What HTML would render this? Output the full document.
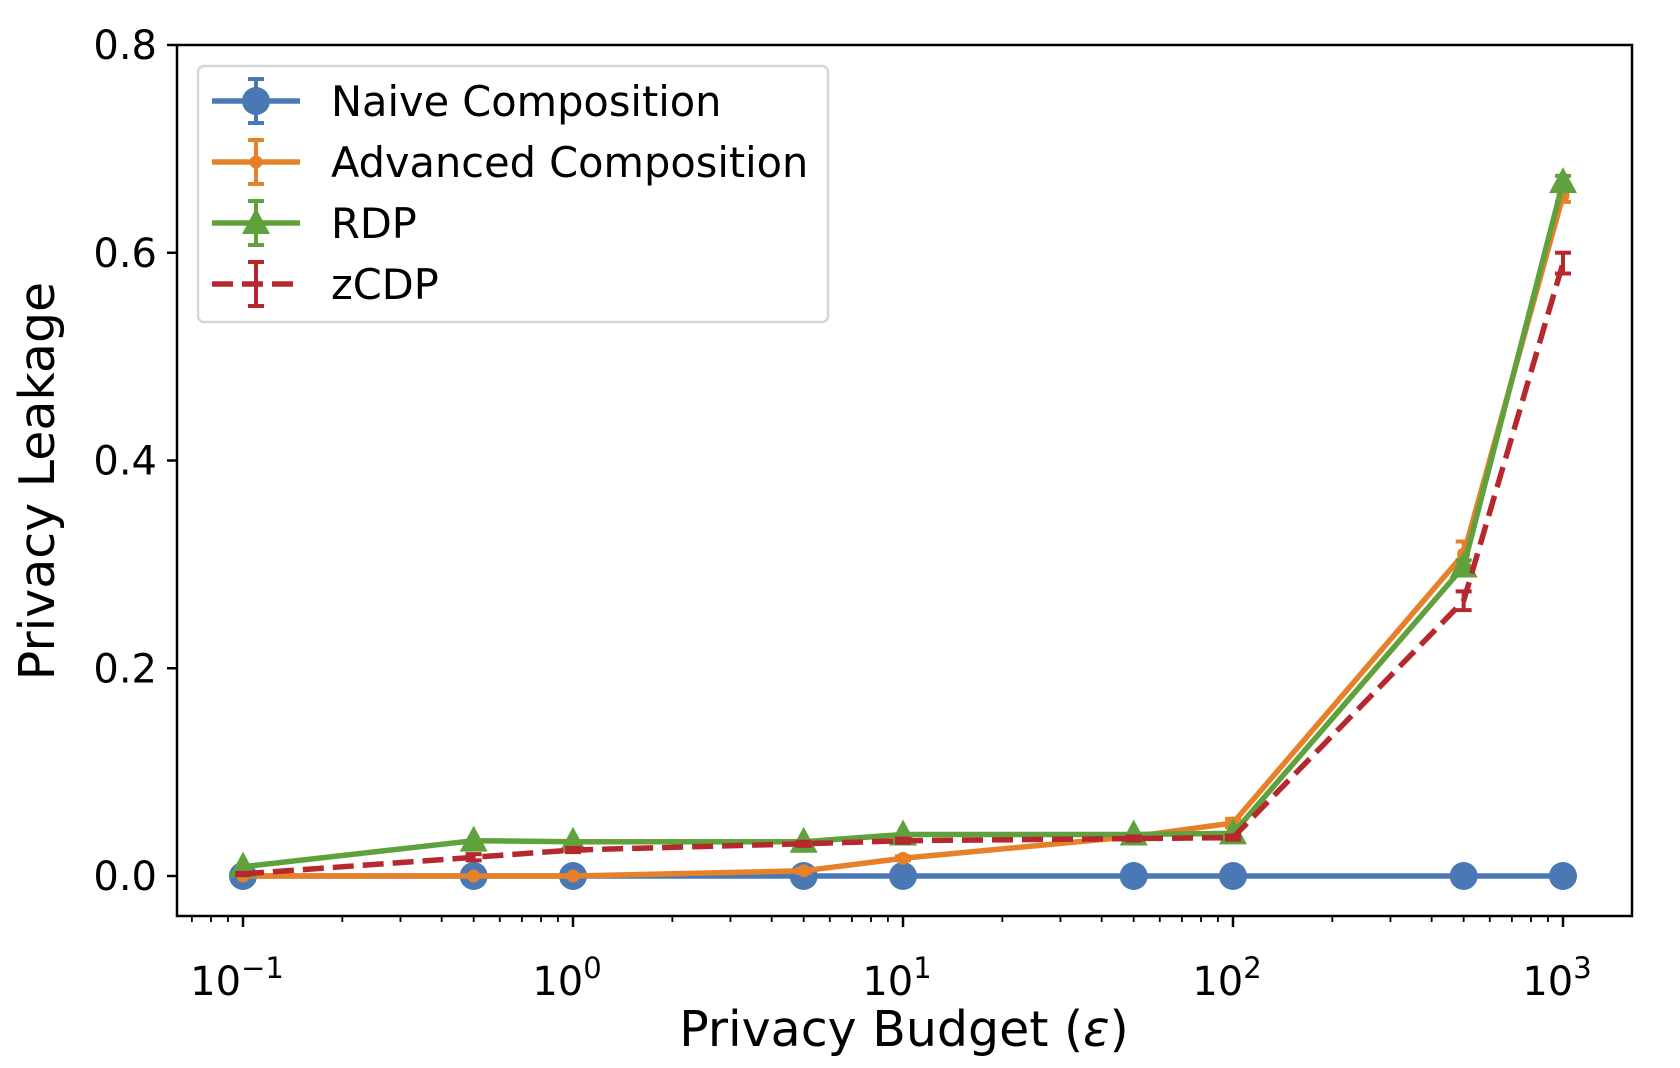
<!DOCTYPE html>
<html><head><meta charset="utf-8"><style>
html,body{margin:0;padding:0;background:#fff;}
svg{display:block;font-family:"DejaVu Sans","Liberation Sans",sans-serif;}
</style></head><body>
<svg id="chart" width="1680" height="1068" viewBox="0 0 1680 1068" xmlns="http://www.w3.org/2000/svg">
<g id="plot"></g>
<g id="axes"></g>
<g id="legend"></g>
<text x="904" y="1046" font-size="49" text-anchor="middle">Privacy Budget (<tspan font-style="italic">ε</tspan>)</text>
<text transform="translate(54,481) rotate(-90)" font-size="49" text-anchor="middle">Privacy Leakage</text>
</svg>
<script>
const xValues = [0.1, 0.5, 1, 5, 10, 50, 100, 500, 1000];
const naiveValues = [0, 0, 0, 0, 0, 0, 0, 0, 0];
const advancedValues = [0, 0, 0, 0.005, 0.017, 0.038, 0.051, 0.31, 0.655];
const advancedErr = [0, 0, 0, 0.002, 0.002, 0.002, 0.004, 0.012, 0.006];
const rdpValues = [0.009, 0.034, 0.033, 0.033, 0.04, 0.04, 0.041, 0.298, 0.668];
const rdpErr = [0, 0, 0, 0, 0, 0, 0, 0.006, 0.006];
const zcdpValues = [0.002, 0.018, 0.025, 0.031, 0.034, 0.036, 0.037, 0.265, 0.59];
const zcdpErr = [0.001, 0.003, 0.002, 0.002, 0.002, 0.002, 0.002, 0.009, 0.01];
const yTicks = [0, 0.2, 0.4, 0.6, 0.8];
const yTickLabels = ["0.0", "0.2", "0.4", "0.6", "0.8"];
const xTickExps = [-1, 0, 1, 2, 3];

const NS = "http://www.w3.org/2000/svg";
const L = 177, R = 1632, T = 45, B = 916;
function xs(v){ return 243 + (Math.log10(v) + 1) * 330; }
function ys(v){ return 876 - v * 1038.75; }
function mk(tag, attrs, parent){ const e = document.createElementNS(NS, tag); for (const k in attrs) e.setAttribute(k, attrs[k]); parent.appendChild(e); return e; }

const plot = document.getElementById('plot');
const axes = document.getElementById('axes');
const legend = document.getElementById('legend');
const LW = 5.5, DASH = '21,9';

function drawSeries(name, vals, errs, color, marker, dash){
  const g = mk('g', {}, plot);
  
  
  const pts = xValues.map((x,i)=> xs(x).toFixed(1) + ',' + ys(vals[i]).toFixed(1)).join(' ');
  const line = mk('polyline', {points: pts, fill: 'none', stroke: color, 'stroke-width': LW, 'stroke-linejoin': 'round'}, g);
  if (dash) line.setAttribute('stroke-dasharray', DASH);
  
  
  xValues.forEach((x,i)=>{
    const cx = xs(x), cy = ys(vals[i]);
    if (errs && errs[i] > 0) {
      const e = errs[i];
      const eg = mk('path', {d: `M${cx},${ys(vals[i]-e)}V${ys(vals[i]+e)}M${cx-8},${ys(vals[i]-e)}h16M${cx-8},${ys(vals[i]+e)}h16`, stroke: color, 'stroke-width': 4, fill: 'none'}, g);
      
      
    }
    let m;
    if (marker === 'circle') m = mk('circle', {cx, cy, r: 14, fill: color}, g);
    else if (marker === 'dot') m = mk('circle', {cx, cy, r: 6.5, fill: color}, g);
    else if (marker === 'tri') m = mk('polygon', {points: `${cx},${cy-15} ${cx-14},${cy+11} ${cx+14},${cy+11}`, fill: color}, g);
    if (m) {
      
      
    }
  });
}
drawSeries('naive', naiveValues, null, '#4a78b4', 'circle', false);
drawSeries('advanced', advancedValues, advancedErr, '#e6812a', 'dot', false);
drawSeries('rdp', rdpValues, rdpErr, '#5fa13d', 'tri', false);
drawSeries('zcdp', zcdpValues, zcdpErr, '#b7282e', null, true);

const frame = mk('rect', {x: L, y: T, width: R-L, height: B-T, fill: 'none', stroke: '#000', 'stroke-width': 2.5}, axes);



yTicks.forEach((v,i)=>{
  const y = ys(v);
  const t = mk('line', {x1: L-10, x2: L, y1: y, y2: y, stroke: '#000', 'stroke-width': 2.5}, axes);
  
  
  const tx = mk('text', {x: L-20, y: y+14, 'font-size': 40, 'text-anchor': 'end'}, axes);
  tx.textContent = yTickLabels[i];
  
  
});
xTickExps.forEach(ex=>{
  const x = xs(Math.pow(10, ex));
  const t = mk('line', {x1: x, x2: x, y1: B, y2: B+11, stroke: '#000', 'stroke-width': 2.5}, axes);
  
  
  const tx = mk('text', {x: x-6, y: 995, 'font-size': 40, 'text-anchor': 'middle'}, axes);
  tx.textContent = '10';
  const sup = mk('tspan', {dy: -17, 'font-size': 29}, tx);
  sup.textContent = ex < 0 ? '\u2212' + (-ex) : String(ex);
  
  
});
for (let ex = -2; ex <= 3; ex++) {
  for (let k = 2; k <= 9; k++) {
    const v = k * Math.pow(10, ex);
    const x = xs(v);
    if (x < L || x > R) continue;
    const t = mk('line', {x1: x, x2: x, y1: B, y2: B+6, stroke: '#000', 'stroke-width': 1.8}, axes);
    
    
  }
}

const lb = mk('rect', {x: 198, y: 66, width: 630, height: 256, rx: 6, fill: '#fff', 'fill-opacity': 0.85, stroke: '#d6d6d6', 'stroke-width': 2.5}, legend);


const legNames = ['Naive Composition', 'Advanced Composition', 'RDP', 'zCDP'];
const legColors = ['#4a78b4', '#e6812a', '#5fa13d', '#b7282e'];
const legMarkers = ['circle', 'dot', 'tri', null];
const legY = [101, 162, 223, 284];
legNames.forEach((n,i)=>{
  const g = mk('g', {}, legend);
  
  
  const y = legY[i], c = legColors[i], cx = 256;
  const ln = mk('line', {x1: 212, x2: 300, y1: y, y2: y, stroke: c, 'stroke-width': LW}, g);
  if (i === 3) ln.setAttribute('stroke-dasharray', DASH);
  mk('path', {d: `M${cx},${y-22}V${y+22}M${cx-8},${y-22}h16M${cx-8},${y+22}h16`, stroke: c, 'stroke-width': 4, fill: 'none'}, g);
  if (legMarkers[i] === 'circle') mk('circle', {cx, cy: y, r: 14, fill: c}, g);
  if (legMarkers[i] === 'dot') mk('circle', {cx, cy: y, r: 6.5, fill: c}, g);
  if (legMarkers[i] === 'tri') mk('polygon', {points: `${cx},${y-15} ${cx-14},${y+11} ${cx+14},${y+11}`, fill: c}, g);
  const tx = mk('text', {x: 331, y: y+15, 'font-size': 41.5}, g);
  tx.textContent = n;
});
</script>
</body></html>
